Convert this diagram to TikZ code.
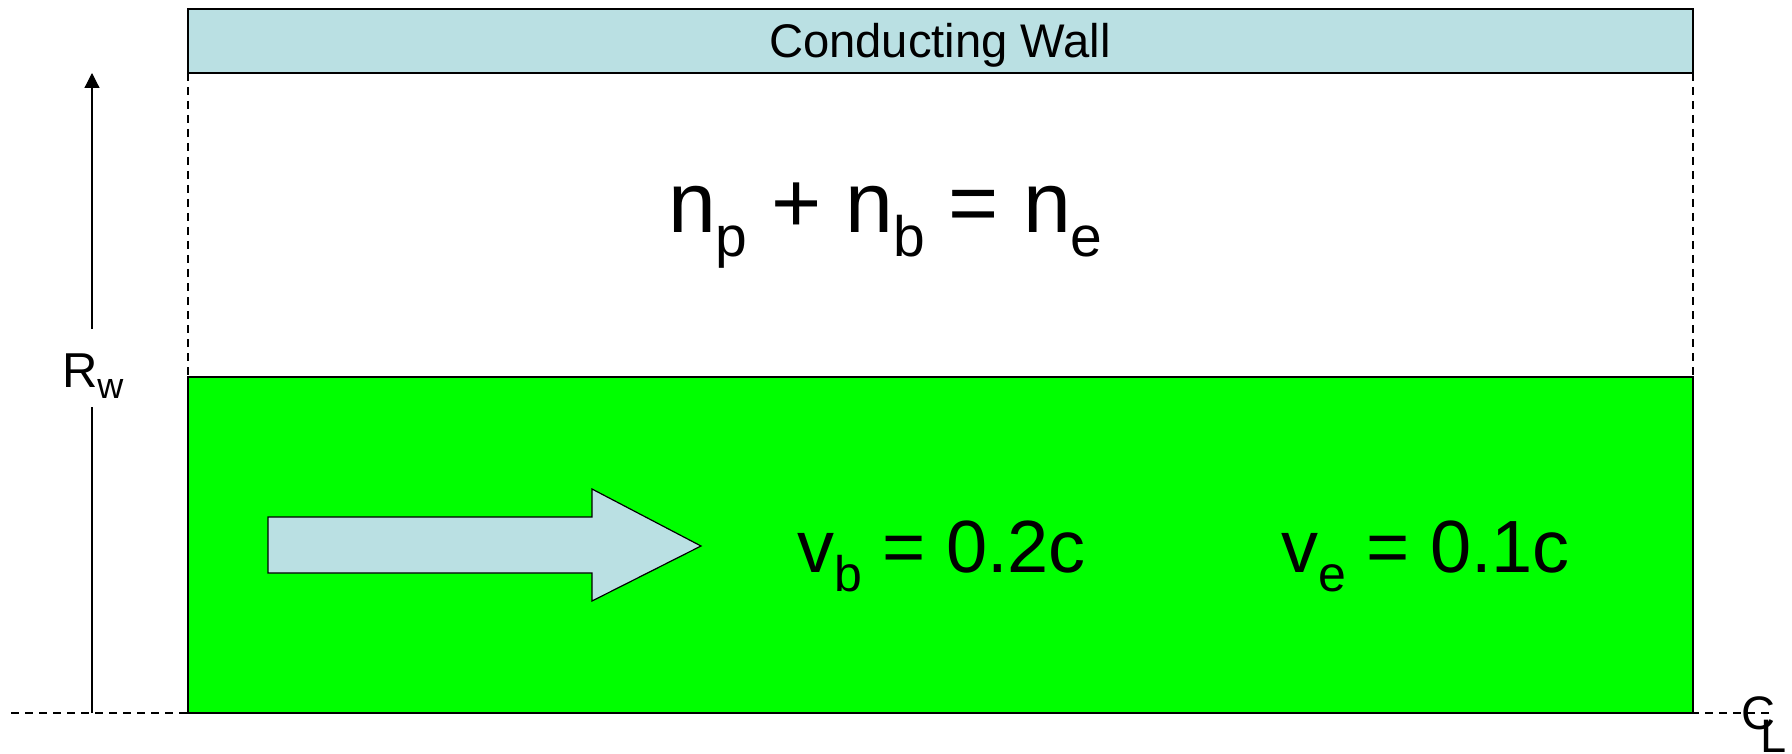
\documentclass[tikz,border=0pt]{standalone}
\usepackage{fontspec}
\setmainfont{Liberation Sans}
\usetikzlibrary{arrows.meta}
\definecolor{wallblue}{RGB}{186,224,227}
\definecolor{plasmagreen}{RGB}{0,255,0}
\newcommand\lsub[3]{\raisebox{-#2}{\fontsize{#1}{#1}\selectfont #3}}
\begin{document}
\begin{tikzpicture}[x=0.5pt,y=-0.5pt,
  box/.style={draw=black, line width=0.6pt, inner sep=0pt, outer sep=0pt},
  outline/.style={draw=black, line width=0.6pt, line join=miter},
  lbl/.style={inner sep=0pt, outer sep=0pt, anchor=base west, text=black},
  guide/.style={draw=black, line width=0.6pt, dash pattern=on 4pt off 3pt},
  axisline/.style={draw=black, line width=0.6pt}]
\useasboundingbox (0,0) rectangle (1792,754);
\fill[white] (0,0) rectangle (1792,754);
% conducting wall
\node[box, fill=wallblue, minimum width=752.5pt, minimum height=32pt] (wall) at (940.5,41) {};
\node[lbl, anchor=base, font=\fontsize{23.6pt}{26pt}\selectfont] (walltext) at (940,58) {Conducting Wall};
% plasma region
\node[box, fill=plasmagreen, minimum width=752.5pt, minimum height=168pt] (plasma) at (940.5,545) {};
% dashed side lines
\draw[guide] (wall.south west) -- (plasma.north west);
\draw[guide] (wall.south east) -- (plasma.north east);
% centre line
\coordinate (axl) at (11,713);
\coordinate (axr) at (1770,713);
\draw[guide] (axl) -- (axr);
% radius arrow
\coordinate (rb) at (92,713);
\coordinate (g1) at (92,407);
\coordinate (g2) at (92,329);
\coordinate (rt) at (92,73);
\draw[axisline] (rb) -- (g1);
\draw[axisline, -{Triangle[length=7.5pt,width=7.5pt]}] (g2) -- (rt);
\node[lbl, font=\fontsize{24.5pt}{26pt}\selectfont] (rw) at (62,387) {R\lsub{18pt}{5.5pt}{w}};
% beam arrow
\draw[outline, fill=wallblue] (268,517) -- (592,517) -- (592,489) -- (701,546) -- (592,601) -- (592,573) -- (268,573) -- cycle;
% texts
\node[lbl, font=\fontsize{43pt}{48pt}\selectfont] (eq) at (668,233) {n\lsub{28.5pt}{12pt}{p} + n\lsub{28.5pt}{12pt}{b} = n\lsub{28.5pt}{12pt}{e}};
\node[lbl, font=\fontsize{37pt}{40pt}\selectfont] (vb) at (797,572) {v\lsub{25pt}{9.5pt}{b} = 0.2c};
\node[lbl, font=\fontsize{37pt}{40pt}\selectfont] (ve) at (1281,572) {v\lsub{25pt}{9.5pt}{e} = 0.1c};
% centre-line label
\node[lbl, font=\fontsize{23.5pt}{26pt}\selectfont] (cc) at (1741,729) {C};
\node[lbl, font=\fontsize{23.5pt}{26pt}\selectfont] (cl) at (1760,752) {L};
\end{tikzpicture}
\end{document}
